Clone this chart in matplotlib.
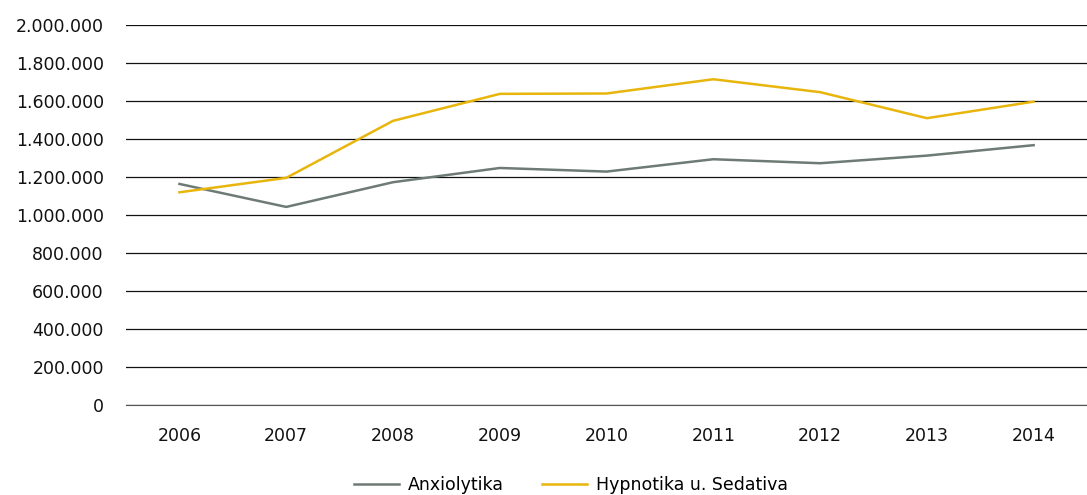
import numpy as np
import matplotlib
matplotlib.use("Agg")
import matplotlib.pyplot as plt
from matplotlib.ticker import FuncFormatter

years = ["2006", "2007", "2008", "2009", "2010", "2011", "2012", "2013", "2014"]
anxiolytika = [1163000, 1042000, 1172000, 1247000, 1228000, 1293000, 1272000, 1312000, 1367000]
hypnotika = [1119000, 1195000, 1495000, 1637000, 1639000, 1714000, 1646000, 1509000, 1596000]

plt.rcParams['font.family'] = ['DejaVu Sans']

fig = plt.figure(figsize=(10.87, 4.95), dpi=100)
ax = fig.add_axes([0.116, 0.182, 0.884, 0.7677])

x = np.arange(len(years))
ax.plot(x, anxiolytika, color="#6e7b74", lw=1.8, label="Anxiolytika")
ax.plot(x, hypnotika, color="#e8b50c", lw=1.8, label="Hypnotika u. Sedativa")

ax.set_xlim(-0.5, len(years) - 0.5)
ax.set_ylim(0, 2000000)
ax.set_yticks(np.arange(0, 2000001, 200000))
ax.yaxis.set_major_formatter(FuncFormatter(lambda v, p: f"{int(v):,}".replace(",", ".")))
ax.set_xticks(x)
ax.set_xticklabels(years)
ax.grid(axis="y", color="#111111", lw=0.9)
ax.set_axisbelow(True)
for s in ["top", "right", "left"]:
    ax.spines[s].set_visible(False)
ax.spines["bottom"].set_color("#555555")
ax.tick_params(length=0, labelsize=12.5, colors="#111111")
ax.tick_params(axis="y", pad=16)
ax.tick_params(axis="x", pad=16)

fig.legend(loc="lower center", bbox_to_anchor=(0.525, -0.03), ncol=2, frameon=False,
           fontsize=12.5, handlelength=2.6, columnspacing=2.2, handletextpad=0.5)

fig.savefig("out.png", dpi=100)
